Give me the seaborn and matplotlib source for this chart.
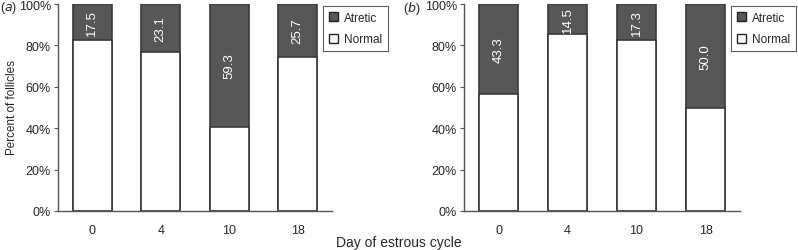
import numpy as np
import pandas as pd
import seaborn as sns
import matplotlib.pyplot as plt
from matplotlib.patches import Patch
from matplotlib.ticker import PercentFormatter

# --- data
days = ["0", "4", "10", "18"]
atretic_a = [17.5, 23.1, 59.3, 25.7]
atretic_b = [43.3, 14.5, 17.3, 50.0]

dark = "#575757"
edge = "#3a3a3a"

sns.set_style("white")
plt.rcParams["font.family"] = ["Liberation Sans", "DejaVu Sans"]

fig = plt.figure(figsize=(7.98, 2.51), dpi=100)
ax_a = fig.add_axes([58 / 798, 39 / 251, 274 / 798, 207 / 251])
ax_b = fig.add_axes([464 / 798, 39 / 251, 276 / 798, 207 / 251])


def panel(ax, atretic, label, lx):
    df = pd.DataFrame({"Day": days, "Atretic": atretic})
    df["Total"] = 100.0
    df["Normal"] = df["Total"] - df["Atretic"]

    sns.barplot(data=df, x="Day", y="Total", color=dark, edgecolor=edge,
                linewidth=1.2, width=0.57, saturation=1, ax=ax)
    sns.barplot(data=df, x="Day", y="Normal", color="white", edgecolor=edge,
                linewidth=1.2, width=0.57, saturation=1, ax=ax)

    # labels inside the dark segment
    for i, (a, n) in enumerate(zip(df["Atretic"], df["Normal"])):
        ax.text(i, n + a / 2, f"{a:.1f}", rotation=90, ha="center",
                va="center", color="white", fontsize=9.5)

    ax.set_ylim(0, 100)
    ax.set_xlim(-0.5, 3.5)
    ax.yaxis.set_major_locator(plt.MultipleLocator(20))
    ax.yaxis.set_major_formatter(PercentFormatter(decimals=0))
    ax.set_xlabel("")
    ax.set_ylabel("")
    for s in ["top", "right"]:
        ax.spines[s].set_visible(False)
    for s in ["left", "bottom"]:
        ax.spines[s].set_color("#555555")
        ax.spines[s].set_linewidth(1.0)
    ax.tick_params(axis="y", left=True, length=3, color="#555555",
                   labelsize=9, pad=2)
    ax.tick_params(axis="x", bottom=False, labelsize=9, pad=6)

    handles = [Patch(facecolor=dark, edgecolor="#222222", label="Atretic"),
               Patch(facecolor="white", edgecolor="#222222", label="Normal")]
    leg = ax.legend(handles=handles, loc="upper left",
                    bbox_to_anchor=(0.967, 0.99), fontsize=8.5, frameon=True,
                    fancybox=False, handlelength=0.8, handleheight=0.8,
                    handletextpad=0.5, borderpad=0.5, labelspacing=0.8,
                    borderaxespad=0)
    leg.get_frame().set_edgecolor("#333333")
    leg.get_frame().set_linewidth(0.8)

    ax.text(lx, 0.985, label, transform=ax.transAxes, fontsize=9,
            ha="left", va="center")


panel(ax_a, atretic_a, "($a$)", -0.21)
panel(ax_b, atretic_b, "($b$)", -0.22)

fig.text(12 / 798, 0.57, "Percent of follicles", rotation=90, ha="center",
         va="center", fontsize=8.4)
fig.text(0.5, 0.03, "Day of estrous cycle", ha="center", va="center",
         fontsize=10)

fig.savefig("out.png", dpi=100)
